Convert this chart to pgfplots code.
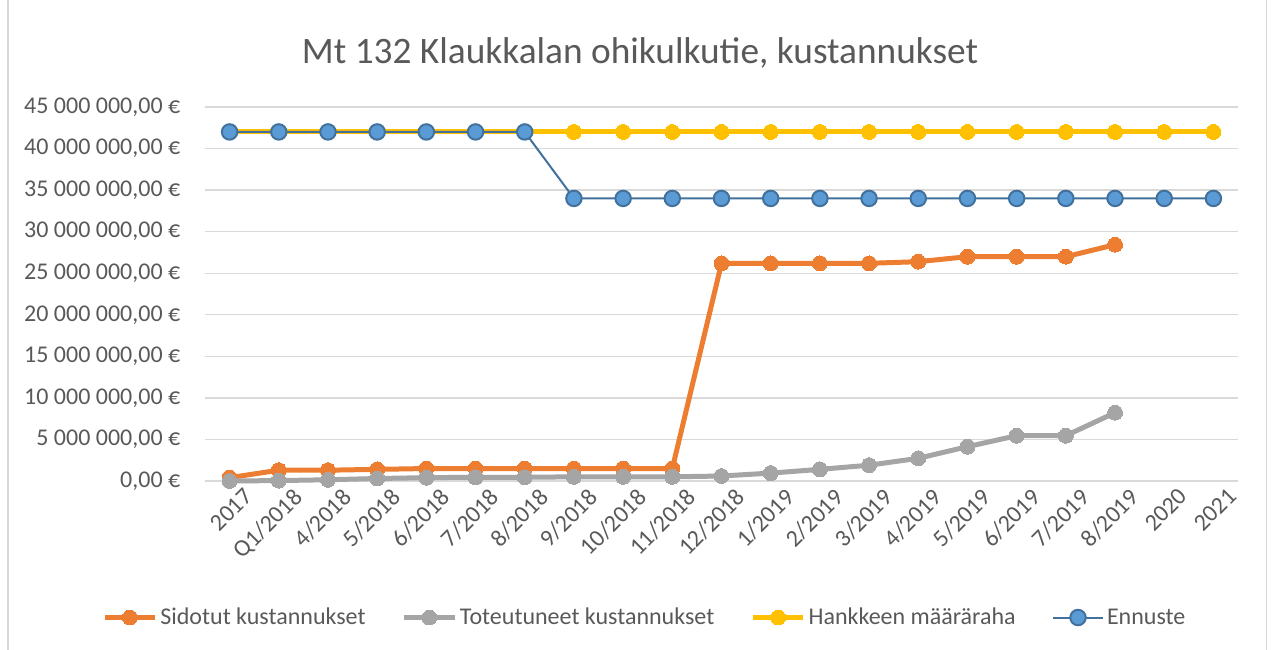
\documentclass[border=0pt]{standalone}
\usepackage{pgfplots}
\pgfplotsset{compat=1.18}
\usepackage{fontspec}
\setmainfont{Carlito}
\definecolor{txt}{HTML}{595959}
\definecolor{gridc}{HTML}{D9D9D9}
\definecolor{cor}{HTML}{ED7D31}
\definecolor{cgr}{HTML}{A5A5A5}
\definecolor{cye}{HTML}{FFC000}
\definecolor{cbl}{HTML}{5B9BD5}
\definecolor{cbe}{HTML}{41719C}
\begin{document}
\begin{tikzpicture}
\useasboundingbox (0,0) rectangle (956.25pt,487.5pt);
\draw[gridc, line width=0.8pt] (6pt,-2pt) rectangle (950pt,490pt);
\node[text=txt, font=\fontsize{28}{33}\selectfont] at (480pt,448pt) {Mt 132 Klaukkalan ohikulkutie, kustannukset};
\begin{axis}[
  at={(153.75pt,126.75pt)}, anchor=south west,
  scale only axis, width=774.75pt, height=280.5pt,
  xmin=-0.5, xmax=20.5, ymin=0, ymax=45,
  axis line style={draw=none},
  major tick length=0pt,
  ymajorgrids, grid style={gridc, line width=1pt},
  ytick={0,5,...,45},
  yticklabels={{0,00 €},{5 000 000,00 €},{10 000 000,00 €},{15 000 000,00 €},{20 000 000,00 €},{25 000 000,00 €},{30 000 000,00 €},{35 000 000,00 €},{40 000 000,00 €},{45 000 000,00 €}},
  xtick={0,...,20},
  xticklabels={2017,Q1/2018,4/2018,5/2018,6/2018,7/2018,8/2018,9/2018,10/2018,11/2018,12/2018,1/2019,2/2019,3/2019,4/2019,5/2019,6/2019,7/2019,8/2019,2020,2021},
  x tick label style={rotate=45, anchor=north east, inner sep=1pt, yshift=-9pt, xshift=5pt},
  y tick label style={xshift=-15pt},
  tick label style={text=txt, font=\fontsize{18}{21}\selectfont},
  legend columns=4,
  legend style={draw=none, fill=none, at={(0.426,-0.365)}, anchor=center,
    font=\fontsize{18}{21}\selectfont, text=txt,
    /tikz/every even column/.append style={column sep=25pt}},
  legend cell align=left,
  legend image code/.code={\draw[#1,mark repeat=2,mark phase=2] plot coordinates {(0pt,0pt) (19pt,0pt) (38pt,0pt)};},
  clip=false,
]
\addplot[cor, line width=3.75pt, mark=*, mark size=5.6pt, mark options={line width=0pt}] coordinates {
(0,0.4) (1,1.3) (2,1.3) (3,1.4) (4,1.5) (5,1.5) (6,1.5) (7,1.5) (8,1.5) (9,1.5)
(10,26.19) (11,26.19) (12,26.19) (13,26.19) (14,26.39) (15,26.99) (16,26.99) (17,26.99) (18,28.43)};
\addlegendentry{Sidotut kustannukset}
\addplot[cgr, line width=3.75pt, mark=*, mark size=5.6pt, mark options={line width=0pt}] coordinates {
(0,0) (1,0.05) (2,0.15) (3,0.3) (4,0.4) (5,0.45) (6,0.45) (7,0.5) (8,0.5) (9,0.5)
(10,0.6) (11,0.95) (12,1.4) (13,1.9) (14,2.73) (15,4.13) (16,5.45) (17,5.45) (18,8.22)};
\addlegendentry{Toteutuneet kustannukset}
\addplot[cye, line width=3.75pt, mark=*, mark size=5.6pt, mark options={line width=0pt}] coordinates {
(0,42) (1,42) (2,42) (3,42) (4,42) (5,42) (6,42) (7,42) (8,42) (9,42) (10,42)
(11,42) (12,42) (13,42) (14,42) (15,42) (16,42) (17,42) (18,42) (19,42) (20,42)};
\addlegendentry{Hankkeen määräraha}
\addplot[cbe, line width=1.5pt, mark=*, mark size=5.8pt, mark options={fill=cbl, draw=cbe, line width=1.5pt}] coordinates {
(0,42) (1,42) (2,42) (3,42) (4,42) (5,42) (6,42) (7,34) (8,34) (9,34) (10,34)
(11,34) (12,34) (13,34) (14,34) (15,34) (16,34) (17,34) (18,34) (19,34) (20,34)};
\addlegendentry{Ennuste}
\end{axis}
\end{tikzpicture}
\end{document}
